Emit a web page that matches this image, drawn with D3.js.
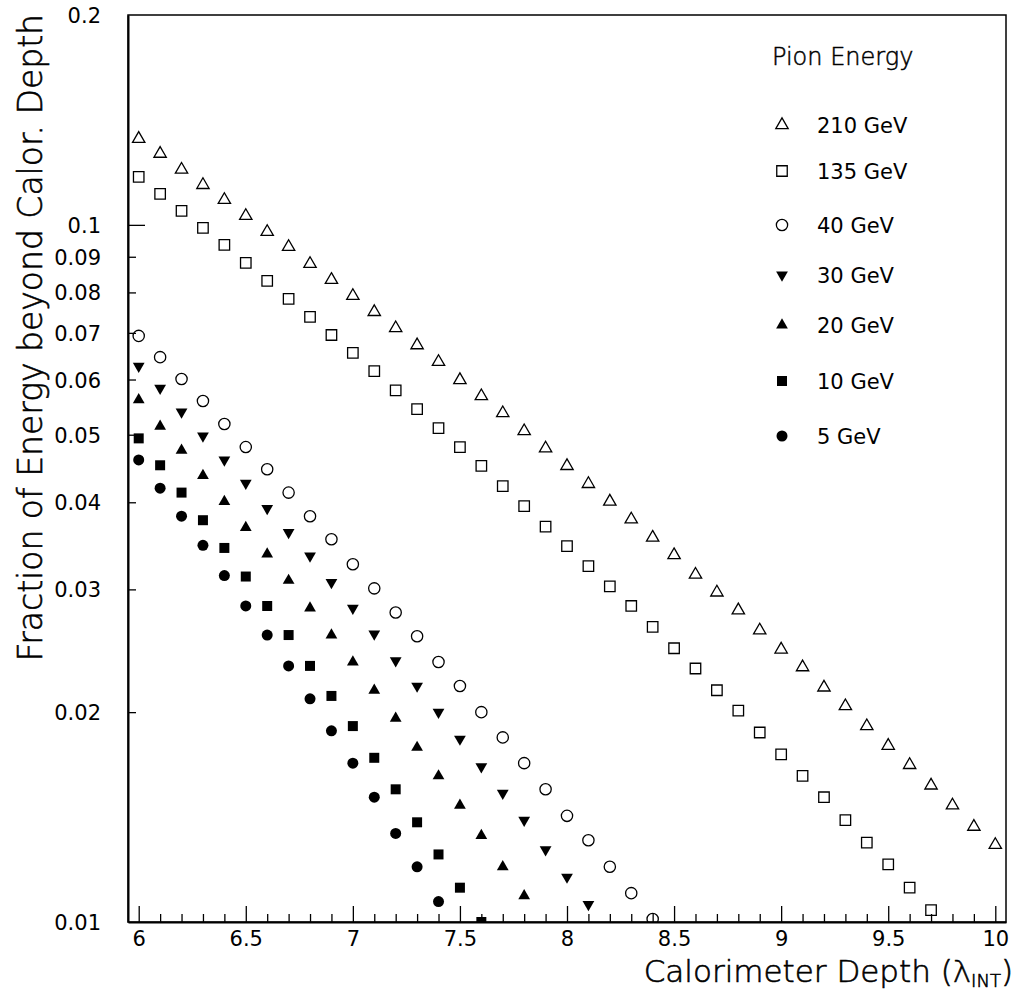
<!DOCTYPE html>
<html><head><meta charset="utf-8">
<script src="https://cdn.jsdelivr.net/npm/d3@7"></script>
<style>
html,body{margin:0;padding:0;background:#fff;}
svg{display:block;}
</style></head>
<body>
<svg id="chart" width="1013" height="993"></svg>
<script>
// ---- data ----
const depths = [6.0,6.1,6.2,6.3,6.4,6.5,6.6,6.7,6.8,6.9,7.0,7.1,7.2,7.3,7.4,7.5,7.6,7.7,7.8,7.9,8.0,8.1,8.2,8.3,8.4,8.5,8.6,8.7,8.8,8.9,9.0,9.1,9.2,9.3,9.4,9.5,9.6,9.7,9.8,9.9,10.0];
const e210 = [0.1329,0.1265,0.1200,0.1141,0.1086,0.1030,0.0977,0.0930,0.0879,0.0834,0.0791,0.0750,0.0711,0.0672,0.0636,0.0599,0.0568,0.0537,0.0506,0.0478,0.0451,0.0425,0.0401,0.0378,0.0356,0.0336,0.0315,0.0297,0.0280,0.0262,0.0246,0.0232,0.0217,0.0204,0.0191,0.0179,0.0168,0.0157,0.0147,0.0137,0.0129];
const e135 = [0.1172,0.1108,0.1047,0.0990,0.0936,0.0882,0.0831,0.0783,0.0738,0.0695,0.0655,0.0617,0.0579,0.0544,0.0511,0.0480,0.0451,0.0422,0.0395,0.0369,0.0346,0.0324,0.0303,0.0284,0.0265,0.0247,0.0231,0.0215,0.0201,0.0187,0.0174,0.0162,0.0151,0.0140,0.0130,0.0121,0.0112,0.0104];
const e40 = [0.0693,0.0646,0.0601,0.0559,0.0518,0.0480,0.0446,0.0413,0.0382,0.0354,0.0326,0.0301,0.0278,0.0257,0.0236,0.0218,0.0200,0.0184,0.0169,0.0155,0.0142,0.0131,0.0120,0.0110,0.0101];
const e30 = [0.0627,0.0583,0.0539,0.0498,0.0460,0.0426,0.0392,0.0362,0.0335,0.0307,0.0282,0.0259,0.0237,0.0218,0.0200,0.0183,0.0167,0.0153,0.0140,0.0127,0.0116,0.0106];
const e20 = [0.0561,0.0514,0.0475,0.0437,0.0401,0.0368,0.0337,0.0309,0.0282,0.0258,0.0236,0.0215,0.0196,0.0178,0.0162,0.0147,0.0133,0.0120,0.0109];
const e10 = [0.0494,0.0452,0.0413,0.0377,0.0344,0.0313,0.0284,0.0258,0.0233,0.0211,0.0191,0.0172,0.0155,0.0139,0.0125,0.0112,0.0100];
const e5 = [0.0460,0.0419,0.0382,0.0347,0.0314,0.0284,0.0258,0.0233,0.0209,0.0188,0.0169,0.0151,0.0134,0.0120,0.0107];

const seriesLabels = ["210 GeV","135 GeV","40 GeV","30 GeV","20 GeV","10 GeV","5 GeV"];
const seriesValues = [e210,e135,e40,e30,e20,e10,e5];
const seriesMarkers = ["triOpen","sqOpen","circOpen","triDownFilled","triFilled","sqFilled","circFilled"];

const xMajorTicks = [6,6.5,7,7.5,8,8.5,9,9.5,10];
const xMinorTicks = [6.1,6.2,6.3,6.4,6.6,6.7,6.8,6.9,7.1,7.2,7.3,7.4,7.6,7.7,7.8,7.9,8.1,8.2,8.3,8.4,8.6,8.7,8.8,8.9,9.1,9.2,9.3,9.4,9.6,9.7,9.8,9.9];
const yTicks = [0.01,0.02,0.03,0.04,0.05,0.06,0.07,0.08,0.09,0.1,0.2];
const yTickLabels = ["0.01","0.02","0.03","0.04","0.05","0.06","0.07","0.08","0.09","0.1","0.2"];

// ---- layout ----
const L = 128, R = 1006, T = 15, B = 922;
const svg = d3.select("#chart");
svg.append("rect").attr("width",1013).attr("height",993).attr("fill","#fff");

const x = d3.scaleLinear().domain([5.95,10.05]).range([L,R]);
const y = d3.scaleLog().domain([0.01,0.2]).range([B,T]);

const tickFont = "'DejaVu Sans', sans-serif";

// clip
svg.append("defs").append("clipPath").attr("id","clip")
  .append("rect").attr("x",L).attr("y",T).attr("width",R-L).attr("height",B-T);

// frame
svg.append("rect").attr("x",L).attr("y",T).attr("width",R-L).attr("height",B-T)
  .attr("fill","none").attr("stroke","#000").attr("stroke-width",1.5);

// x axis minor
const gxMinor = svg.append("g").attr("transform",`translate(0,${B})`)
  .call(d3.axisBottom(x).tickValues(xMinorTicks).tickSizeInner(-8).tickSizeOuter(0).tickFormat(""));
gxMinor.select(".domain").remove();
// x axis major
const gx = svg.append("g").attr("transform",`translate(0,${B})`)
  .call(d3.axisBottom(x).tickValues(xMajorTicks).tickSizeInner(-16).tickSizeOuter(0).tickPadding(9)
    .tickFormat(d => d3.format("")(d)));
gx.select(".domain").attr("stroke-width",2);
svg.selectAll("g.tick line").attr("stroke-width",1.3);
gx.selectAll("text").attr("font-family",tickFont).attr("font-size",21).attr("fill","#000");

// y axis
const gy = svg.append("g").attr("transform",`translate(${L},0)`)
  .call(d3.axisLeft(y).tickValues(yTicks).tickSizeInner(-8).tickSizeOuter(0).tickPadding(27)
    .tickFormat((d,i) => yTickLabels[i]));
gy.select(".domain").attr("stroke-width",2);
gy.selectAll("g.tick line").attr("stroke-width",1.3).attr("x2", d => (d===0.1 ? 17 : (d===0.01||d===0.2 ? 0 : 8)));
gy.selectAll("text").attr("font-family",tickFont).attr("font-size",21).attr("fill","#000").attr("dy","0.36em");

// ---- markers ----
const markerDefs = {
  triOpen:      {type:d3.symbolTriangle, size:66, rot:0,   fill:"none", stroke:"#000"},
  sqOpen:       {type:d3.symbolSquare,   size:110,rot:0,   fill:"none", stroke:"#000"},
  circOpen:     {type:d3.symbolCircle,   size:100,rot:0,   fill:"none", stroke:"#000"},
  triDownFilled:{type:d3.symbolTriangle, size:60, rot:180, fill:"#000", stroke:"none"},
  triFilled:    {type:d3.symbolTriangle, size:60, rot:0,   fill:"#000", stroke:"none"},
  sqFilled:     {type:d3.symbolSquare,   size:100,rot:0,   fill:"#000", stroke:"none"},
  circFilled:   {type:d3.symbolCircle,   size:95, rot:0,   fill:"#000", stroke:"none"}
};

const plot = svg.append("g").attr("clip-path","url(#clip)");
seriesValues.forEach((vals,si) => {
  const m = markerDefs[seriesMarkers[si]];
  const sym = d3.symbol().type(m.type).size(m.size);
  plot.append("g").selectAll("path").data(vals.map((v,i)=>[depths[i],v])).join("path")
    .attr("d", sym)
    .attr("transform", d => `translate(${x(d[0])},${y(d[1])}) rotate(${m.rot})`)
    .attr("fill", m.fill).attr("stroke", m.stroke).attr("stroke-width",1.3);
});

// ---- legend ----
const legendRowsY = [125,171,225,275,325,381,436];
const lg = svg.append("g");
lg.append("text").attr("x",772).attr("y",65).text("Pion Energy")
  .attr("font-family",tickFont).attr("font-size",24).attr("font-weight",200)
  .attr("stroke","#000").attr("stroke-width",0.5).attr("fill","#000");
seriesLabels.forEach((lab,i) => {
  const m = markerDefs[seriesMarkers[i]];
  lg.append("path").attr("d", d3.symbol().type(m.type).size(m.size)())
    .attr("transform",`translate(782,${legendRowsY[i]}) rotate(${m.rot})`)
    .attr("fill", m.fill).attr("stroke", m.stroke).attr("stroke-width",1.3);
  lg.append("text").attr("x",817).attr("y",legendRowsY[i]).attr("dy","0.36em").text(lab)
    .attr("font-family",tickFont).attr("font-size",21).attr("fill","#000");
});

// ---- axis titles ----
const titleFont = "'DejaVu Sans', sans-serif";
const xt = svg.append("text").attr("x",1013).attr("y",982).attr("text-anchor","end")
  .attr("font-family",titleFont).attr("font-size",31).attr("font-weight",200)
  .attr("stroke","#000").attr("stroke-width",0.6).attr("fill","#000");
xt.append("tspan").text("Calorimeter Depth (λ");
xt.append("tspan").attr("font-size",18).attr("dy",5).text("INT");
xt.append("tspan").attr("dy",-5).text(")");

svg.append("text").attr("transform","translate(42,14) rotate(-90)").attr("text-anchor","end")
  .attr("font-family",titleFont).attr("font-size",33).attr("font-weight",200)
  .attr("stroke","#000").attr("stroke-width",0.6).attr("fill","#000")
  .text("Fraction of Energy beyond Calor. Depth");
</script>
</body></html>
